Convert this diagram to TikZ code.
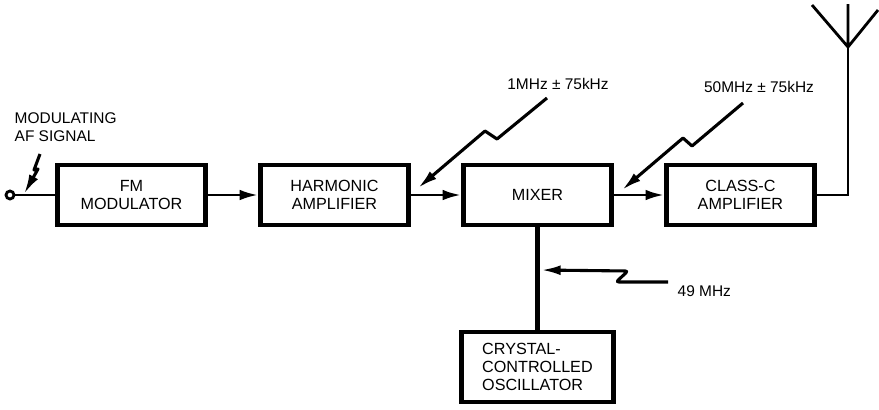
\documentclass[tikz,border=0pt]{standalone}
\usepackage{fontspec}
\setmainfont{Liberation Sans}
\usetikzlibrary{arrows.meta, positioning}

\begin{document}
\begin{tikzpicture}[
  x=0.025cm, y=-0.025cm,
  % Node styles
  block/.style={
    rectangle, draw=black, line width=3.5pt,
    minimum width=3.70cm, minimum height=1.50cm,
    align=center, font=\fontsize{11.5}{13}\selectfont
  },
  lbl/.style={font=\fontsize{11}{13}\selectfont, inner sep=1pt},
  % Arrow styles
  sig/.style={-{Latex[length=13pt, width=7.5pt]}, line width=2pt},
  bolt/.style={-{Latex[length=14pt, width=7pt]}, line width=2.2pt,
    line join=round},
  wire/.style={line width=2pt},
  node distance=1.25cm and 1.25cm
]

\useasboundingbox (0,0) rectangle (879,409);

%% -- Blocks ---------------------------------------------------
\node[block]                     (fm)     at (131.5,195) {FM\\MODULATOR};
\node[block, right=of fm]        (harm)   {HARMONIC\\AMPLIFIER};
\node[block, right=of harm]      (mixer)  {MIXER};
\node[block, right=of mixer]     (classc) {CLASS-C\\AMPLIFIER};
\node[block, below=2.55cm of mixer, align=left,
      minimum width=3.80cm, minimum height=1.75cm] (xtal)
      {CRYSTAL-\\CONTROLLED\\OSCILLATOR};

%% -- Input terminal -------------------------------------------
\node[circle, draw, line width=2pt, inner sep=0pt,
      minimum size=0.2cm]        (in)     at (10,195) {};
\node[lbl, anchor=west, align=left] (insig) at (13,127)
      {MODULATING\\AF SIGNAL};

%% -- Labels ---------------------------------------------------
\node[lbl] (f1)  at (558,84)  {1MHz ± 75kHz};
\node[lbl] (f2)  at (759,87)  {50MHz ± 75kHz};
\node[lbl, anchor=west] (f3) at (676,291) {49 MHz};

%% -- Signal path ----------------------------------------------
\draw[wire] (in) -- (fm);
\draw[sig]  (fm)    -- (harm);
\draw[sig]  (harm)  -- (mixer);
\draw[sig]  (mixer) -- (classc);
\draw[line width=4pt] (mixer) -- (xtal);

%% -- Antenna --------------------------------------------------
\coordinate (feed) at (848,47);
\coordinate (antT) at (848,4);
\coordinate (antL) at (812,5);
\coordinate (antR) at (878,10);
\draw[wire] (classc.east) -| (feed);
\draw[wire] (feed) -- (antT) (feed) -- (antL) (feed) -- (antR);

%% -- Injected signals -----------------------------------------
\coordinate (b0s) at (40,154);
\coordinate (b0e) at (24,194);
\draw[bolt] (b0s) -- (34,170) -- (38,169) -- (b0e);

\coordinate (b1s) at (547,98);
\coordinate (b1e) at (418,188);
\draw[bolt] (b1s) -- (497,139) -- (485,131) -- (b1e);

\coordinate (b2s) at (743,103);
\coordinate (b2e) at (622,190);
\draw[bolt] (b2s) -- (692,146) -- (683,138) -- (b2e);

\coordinate (b3s) at (668,282);
\coordinate (b3e) at (541,270);
\draw[bolt, rounded corners=2pt] (b3s) -- (616,282) -- (628,271) -- (b3e);

\end{tikzpicture}
\end{document}
